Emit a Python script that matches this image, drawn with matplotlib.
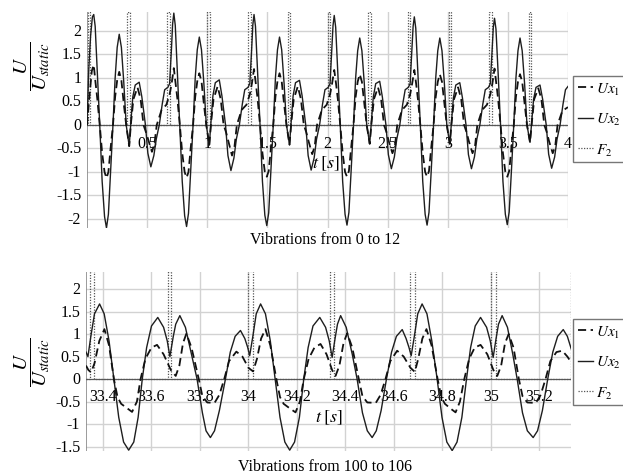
import numpy as np
import matplotlib
matplotlib.use("Agg")
import matplotlib.pyplot as plt
from matplotlib.lines import Line2D

plt.rcParams['font.family'] = ['Liberation Serif', 'DejaVu Serif']
plt.rcParams['mathtext.fontset'] = 'stix'

# ------------------------------------------------------------------
# Data read off the picture : top panel (0 .. 4 s)
# ------------------------------------------------------------------
top_ux2_t = [
    0.000, 0.015, 0.030, 0.045, 0.056, 0.068, 0.086, 0.106, 0.126, 0.146, 0.162, 0.178, 0.196, 0.216,
    0.234, 0.251, 0.268, 0.286, 0.306, 0.326, 0.351, 0.366, 0.381, 0.401, 0.434, 0.456, 0.486, 0.506,
    0.531, 0.556, 0.576, 0.601, 0.626, 0.646,
    0.672, 0.687, 0.702, 0.712, 0.722, 0.734, 0.752, 0.772, 0.792, 0.812, 0.828, 0.844, 0.862, 0.882,
    0.900, 0.917, 0.934, 0.952, 0.972, 0.992, 1.017, 1.032, 1.047, 1.067, 1.100, 1.122, 1.152, 1.172,
    1.197, 1.222, 1.242, 1.267, 1.292, 1.312,
    1.339, 1.354, 1.369, 1.379, 1.389, 1.401, 1.419, 1.439, 1.459, 1.479, 1.495, 1.511, 1.529, 1.549,
    1.567, 1.584, 1.601, 1.619, 1.639, 1.659, 1.684, 1.699, 1.714, 1.734, 1.767, 1.789, 1.819, 1.839,
    1.864, 1.889, 1.909, 1.934, 1.959, 1.979,
    2.006, 2.021, 2.036, 2.046, 2.056, 2.068, 2.086, 2.106, 2.126, 2.146, 2.162, 2.178, 2.196, 2.216,
    2.234, 2.251, 2.268, 2.286, 2.306, 2.326, 2.351, 2.366, 2.381, 2.401, 2.434, 2.456, 2.486, 2.506,
    2.531, 2.556, 2.576, 2.601, 2.626, 2.646,
    2.672, 2.687, 2.702, 2.712, 2.722, 2.734, 2.752, 2.772, 2.792, 2.812, 2.828, 2.844, 2.862, 2.882,
    2.900, 2.917, 2.934, 2.952, 2.972, 2.992, 3.017, 3.032, 3.047, 3.067, 3.100, 3.122, 3.152, 3.172,
    3.197, 3.222, 3.242, 3.267, 3.292, 3.312,
    3.339, 3.354, 3.369, 3.379, 3.389, 3.401, 3.419, 3.439, 3.459, 3.479, 3.495, 3.511, 3.529, 3.549,
    3.567, 3.584, 3.601, 3.619, 3.639, 3.659, 3.684, 3.699, 3.714, 3.734, 3.767, 3.789, 3.819, 3.839,
    3.864, 3.889, 3.909, 3.934, 3.959, 3.979, 4.000,
]
top_ux2 = [
    0.00, 1.20, 1.90, 2.30, 2.35, 2.10, 1.10, 0.00, -1.20, -1.95, -2.19, -1.90, -1.00, 0.00,
    1.00, 1.65, 1.93, 1.65, 0.90, 0.00, -0.45, 0.10, 0.60, 0.85, 0.91, 0.60, 0.00, -0.60,
    -0.89, -0.65, -0.30, 0.00, 0.45, 0.75,
    0.80, 0.88, 1.60, 2.15, 2.38, 2.12, 1.10, 0.00, -1.20, -1.93, -2.16, -1.88, -1.00, 0.00,
    1.00, 1.60, 1.87, 1.60, 0.88, 0.00, -0.43, 0.10, 0.62, 0.90, 0.96, 0.62, 0.00, -0.65,
    -0.97, -0.70, -0.30, 0.00, 0.45, 0.75,
    0.80, 0.88, 1.60, 2.13, 2.35, 2.10, 1.10, 0.00, -1.20, -1.92, -2.14, -1.87, -1.00, 0.00,
    1.00, 1.60, 1.87, 1.60, 0.88, 0.00, -0.42, 0.10, 0.62, 0.90, 0.95, 0.62, 0.00, -0.65,
    -0.96, -0.70, -0.30, 0.00, 0.45, 0.75,
    0.80, 0.88, 1.60, 2.12, 2.33, 2.08, 1.10, 0.00, -1.20, -1.90, -2.13, -1.86, -1.00, 0.00,
    1.00, 1.58, 1.85, 1.58, 0.88, 0.00, -0.40, 0.10, 0.60, 0.88, 0.93, 0.60, 0.00, -0.63,
    -0.93, -0.68, -0.30, 0.00, 0.45, 0.75,
    0.80, 0.88, 1.60, 2.10, 2.30, 2.06, 1.10, 0.00, -1.20, -1.90, -2.13, -1.86, -1.00, 0.00,
    1.00, 1.58, 1.85, 1.58, 0.88, 0.00, -0.40, 0.10, 0.58, 0.85, 0.90, 0.58, 0.00, -0.63,
    -0.93, -0.68, -0.30, 0.00, 0.45, 0.75,
    0.80, 0.88, 1.60, 2.08, 2.27, 2.04, 1.10, 0.00, -1.20, -1.90, -2.12, -1.85, -1.00, 0.00,
    1.00, 1.58, 1.85, 1.58, 0.88, 0.00, -0.37, 0.10, 0.55, 0.80, 0.85, 0.55, 0.00, -0.62,
    -0.92, -0.68, -0.30, 0.00, 0.45, 0.75, 0.82,
]

top_ux1_t = [
    0.000, 0.020, 0.040, 0.056, 0.071, 0.086, 0.106, 0.126, 0.146, 0.162, 0.178, 0.196, 0.216, 0.234,
    0.251, 0.268, 0.286, 0.306, 0.326, 0.351, 0.366, 0.386, 0.420, 0.446, 0.470, 0.490, 0.510, 0.540,
    0.561, 0.580, 0.620, 0.660,
    0.687, 0.704, 0.722, 0.737, 0.752, 0.772, 0.792, 0.812, 0.828, 0.844, 0.862, 0.882, 0.900, 0.917,
    0.934, 0.952, 0.972, 0.992, 1.017, 1.032, 1.052, 1.086, 1.112, 1.136, 1.156, 1.176, 1.206, 1.227,
    1.246, 1.286, 1.326,
    1.354, 1.371, 1.389, 1.404, 1.419, 1.439, 1.459, 1.479, 1.495, 1.511, 1.529, 1.549, 1.567, 1.584,
    1.601, 1.619, 1.639, 1.659, 1.684, 1.699, 1.719, 1.753, 1.779, 1.803, 1.823, 1.843, 1.873, 1.894,
    1.913, 1.953, 1.993,
    2.021, 2.038, 2.056, 2.071, 2.086, 2.106, 2.126, 2.146, 2.162, 2.178, 2.196, 2.216, 2.234, 2.251,
    2.268, 2.286, 2.306, 2.326, 2.351, 2.366, 2.386, 2.420, 2.446, 2.470, 2.490, 2.510, 2.540, 2.561,
    2.580, 2.620, 2.660,
    2.687, 2.704, 2.722, 2.737, 2.752, 2.772, 2.792, 2.812, 2.828, 2.844, 2.862, 2.882, 2.900, 2.917,
    2.934, 2.952, 2.972, 2.992, 3.017, 3.032, 3.052, 3.086, 3.112, 3.136, 3.156, 3.176, 3.206, 3.227,
    3.246, 3.286, 3.326,
    3.354, 3.371, 3.389, 3.404, 3.419, 3.439, 3.459, 3.479, 3.495, 3.511, 3.529, 3.549, 3.567, 3.584,
    3.601, 3.619, 3.639, 3.659, 3.684, 3.699, 3.719, 3.753, 3.779, 3.803, 3.823, 3.843, 3.873, 3.894,
    3.913, 3.953, 4.000,
]
top_ux1 = [
    0.00, 0.60, 1.15, 1.28, 0.90, 0.55, 0.00, -0.60, -1.00, -1.13, -1.00, -0.50, 0.00, 0.60,
    0.95, 1.13, 0.95, 0.45, 0.00, -0.45, 0.05, 0.55, 0.80, 0.55, 0.00, -0.15, -0.32, -0.57,
    -0.40, 0.00, 0.32, 0.43,
    0.65, 0.88, 1.21, 0.88, 0.55, 0.00, -0.60, -1.00, -1.12, -1.00, -0.50, 0.00, 0.60, 0.93,
    1.10, 0.93, 0.45, 0.00, -0.43, 0.05, 0.55, 0.82, 0.55, 0.00, -0.15, -0.35, -0.65, -0.45,
    0.00, 0.32, 0.43,
    0.65, 0.88, 1.19, 0.88, 0.55, 0.00, -0.60, -1.00, -1.10, -0.98, -0.50, 0.00, 0.60, 0.93,
    1.10, 0.93, 0.45, 0.00, -0.42, 0.05, 0.55, 0.82, 0.55, 0.00, -0.15, -0.35, -0.62, -0.45,
    0.00, 0.32, 0.43,
    0.65, 0.88, 1.17, 0.88, 0.55, 0.00, -0.60, -1.00, -1.10, -0.98, -0.50, 0.00, 0.60, 0.92,
    1.08, 0.92, 0.45, 0.00, -0.40, 0.05, 0.55, 0.80, 0.55, 0.00, -0.15, -0.35, -0.60, -0.45,
    0.00, 0.32, 0.43,
    0.65, 0.88, 1.17, 0.88, 0.55, 0.00, -0.60, -1.00, -1.10, -0.98, -0.50, 0.00, 0.60, 0.92,
    1.08, 0.92, 0.45, 0.00, -0.40, 0.05, 0.55, 0.80, 0.55, 0.00, -0.15, -0.35, -0.60, -0.45,
    0.00, 0.32, 0.43,
    0.65, 0.88, 1.20, 0.88, 0.55, 0.00, -0.60, -1.00, -1.10, -0.98, -0.50, 0.00, 0.60, 0.92,
    1.08, 0.92, 0.45, 0.00, -0.37, 0.05, 0.55, 0.78, 0.55, 0.00, -0.15, -0.35, -0.60, -0.45,
    0.00, 0.30, 0.38,
]

# F2 pulses (rising / falling edge times), clipped at the top of the view
top_f2_on = [0.008, 0.333, 0.668, 1.000, 1.343, 1.668, 2.000, 2.336, 2.668, 3.008, 3.343, 3.672]
top_f2_off = [0.025, 0.357, 0.690, 1.022, 1.365, 1.690, 2.022, 2.358, 2.690, 3.030, 3.365, 3.694]
f2_height = 2.4

# ------------------------------------------------------------------
# Data read off the picture : bottom panel (33.33 .. 35.33 s)
# ------------------------------------------------------------------
bot_ux2_t = [
    33.330, 33.338, 33.350, 33.365, 33.386, 33.405, 33.425, 33.445, 33.465, 33.485, 33.506, 33.527,
    33.545, 33.562, 33.580, 33.600, 33.626, 33.650, 33.665, 33.676, 33.690, 33.700, 33.717, 33.740,
    33.765, 33.788, 33.810, 33.825, 33.843, 33.860, 33.880, 33.905, 33.925, 33.945, 33.967, 33.985,
    33.997, 34.005, 34.018, 34.032, 34.050, 34.070, 34.090, 34.110, 34.130, 34.150, 34.170, 34.190,
    34.210, 34.228, 34.246, 34.266, 34.294, 34.318, 34.333, 34.345, 34.357, 34.367, 34.380, 34.403,
    34.428, 34.448, 34.470, 34.490, 34.510, 34.527, 34.547, 34.569, 34.590, 34.610, 34.634, 34.650,
    34.662, 34.671, 34.684, 34.698, 34.716, 34.736, 34.756, 34.778, 34.798, 34.818, 34.840, 34.860,
    34.880, 34.899, 34.916, 34.935, 34.957, 34.982, 34.997, 35.009, 35.021, 35.031, 35.046, 35.068,
    35.090, 35.108, 35.130, 35.150, 35.174, 35.192, 35.212, 35.234, 35.255, 35.275, 35.298, 35.315,
    35.331,
]
bot_ux2 = [
    0.60, 0.50, 0.95, 1.45, 1.67, 1.45, 0.85, 0.00, -0.85, -1.40, -1.58, -1.40,
    -0.85, 0.00, 0.70, 1.18, 1.37, 1.15, 0.85, 0.50, 0.95, 1.22, 1.41, 1.15,
    0.55, 0.00, -0.75, -1.15, -1.30, -1.15, -0.70, 0.00, 0.60, 0.95, 1.08, 0.90,
    0.70, 0.52, 0.95, 1.45, 1.67, 1.45, 0.85, 0.00, -0.85, -1.40, -1.58, -1.40,
    -0.85, 0.00, 0.70, 1.18, 1.37, 1.15, 0.85, 0.48, 0.90, 1.22, 1.41, 1.15,
    0.55, 0.00, -0.75, -1.15, -1.30, -1.15, -0.70, 0.00, 0.60, 0.95, 1.10, 0.90,
    0.70, 0.52, 0.95, 1.45, 1.67, 1.45, 0.85, 0.00, -0.85, -1.40, -1.59, -1.40,
    -0.85, 0.00, 0.70, 1.18, 1.37, 1.15, 0.85, 0.48, 0.90, 1.22, 1.41, 1.15,
    0.55, 0.00, -0.75, -1.15, -1.30, -1.15, -0.70, 0.00, 0.60, 0.95, 1.10, 0.95,
    0.67,
]

bot_ux1_t = [
    33.330, 33.340, 33.351, 33.365, 33.385, 33.406, 33.425, 33.445, 33.460, 33.475, 33.500, 33.520,
    33.540, 33.555, 33.575, 33.600, 33.623, 33.650, 33.680, 33.700, 33.715, 33.730, 33.744, 33.765,
    33.795, 33.810, 33.830, 33.860, 33.880, 33.900, 33.920, 33.950, 33.975, 34.000, 34.019, 34.035,
    34.052, 34.070, 34.090, 34.115, 34.130, 34.145, 34.170, 34.194, 34.212, 34.228, 34.248, 34.272,
    34.297, 34.322, 34.345, 34.359, 34.375, 34.392, 34.407, 34.428, 34.455, 34.470, 34.490, 34.525,
    34.545, 34.565, 34.585, 34.613, 34.640, 34.668, 34.686, 34.700, 34.717, 34.734, 34.755, 34.780,
    34.795, 34.810, 34.832, 34.854, 34.872, 34.890, 34.910, 34.933, 34.957, 34.985, 35.010, 35.026,
    35.042, 35.058, 35.073, 35.093, 35.115, 35.130, 35.150, 35.185, 35.205, 35.225, 35.245, 35.270,
    35.294, 35.315, 35.331,
]
bot_ux1 = [
    0.30, 0.20, 0.15, 0.35, 0.85, 1.11, 0.75, 0.00, -0.40, -0.55, -0.65, -0.73,
    -0.50, 0.00, 0.45, 0.70, 0.76, 0.55, 0.20, 0.07, 0.30, 0.80, 1.01, 0.70,
    0.00, -0.38, -0.52, -0.53, -0.35, 0.00, 0.40, 0.61, 0.50, 0.25, 0.17, 0.45,
    0.90, 1.11, 0.75, 0.00, -0.40, -0.55, -0.65, -0.74, -0.50, 0.00, 0.45, 0.70,
    0.78, 0.55, 0.20, 0.07, 0.30, 0.80, 1.02, 0.70, 0.00, -0.38, -0.52, -0.53,
    -0.35, 0.00, 0.40, 0.63, 0.50, 0.25, 0.16, 0.45, 0.90, 1.11, 0.75, 0.00,
    -0.40, -0.55, -0.65, -0.74, -0.50, 0.00, 0.45, 0.70, 0.76, 0.55, 0.20, 0.07,
    0.30, 0.80, 1.00, 0.70, 0.00, -0.38, -0.52, -0.53, -0.35, 0.00, 0.40, 0.60,
    0.63, 0.50, 0.37,
]

bot_f2_on = [33.348, 33.669, 34.000, 34.335, 34.668, 35.000, 35.328]
bot_f2_off = [33.362, 33.682, 34.018, 34.352, 34.686, 35.019, 35.345]

# axis ticks / labels
top_xticks = [0.5, 1, 1.5, 2, 2.5, 3, 3.5, 4]
top_xlabels = ['0.5', '1', '1.5', '2', '2.5', '3', '3.5', '4']
top_yticks = [2, 1.5, 1, 0.5, 0, -0.5, -1, -1.5, -2]
bot_xticks = [33.4, 33.6, 33.8, 34.0, 34.2, 34.4, 34.6, 34.8, 35.0, 35.2]
bot_xlabels = ['33.4', '33.6', '33.8', '34', '34.2', '34.4', '34.6', '34.8', '35', '35.2']
bot_yticks = [2, 1.5, 1, 0.5, 0, -0.5, -1, -1.5]


def pulse_train(on, off, height, t0, t1):
    t = [t0]
    v = [0.0]
    for a, b in zip(on, off):
        t += [a, a, b, b]
        v += [0.0, height, height, 0.0]
    t.append(t1)
    v.append(0.0)
    return np.array(t), np.array(v)


fig = plt.figure(figsize=(6.23, 4.77), dpi=100)

ax1 = fig.add_axes([87 / 623, 1 - 229.4 / 477, 481 / 623, 216.7 / 477])
ax2 = fig.add_axes([86 / 623, 1 - 451.6 / 477, 485 / 623, 178.6 / 477])

panels = [
    (ax1, (0, 4.0), (-2.2, 2.41), top_xticks, top_xlabels, top_yticks,
     top_ux1_t, top_ux1, top_ux2_t, top_ux2, top_f2_on, top_f2_off, -0.38, (1.99, -0.81)),
    (ax2, (33.33, 35.33), (-1.59, 2.38), bot_xticks, bot_xlabels, bot_yticks,
     bot_ux1_t, bot_ux1, bot_ux2_t, bot_ux2, bot_f2_on, bot_f2_off, -0.37, (34.33, -0.84)),
]

for ax, xlim, ylim, xt, xl, yt, u1t, u1, u2t, u2, fon, foff, lab_y, tpos in panels:
    ax.set_xlim(*xlim)
    ax.set_ylim(*ylim)
    for s in ax.spines.values():
        s.set_visible(False)
    ax.set_xticks([])
    ax.set_yticks([])

    # grid + axis lines through the origin (Maple style)
    for x in xt:
        ax.axvline(x, color='#d2d2d2', lw=1.0, zorder=0)
    for y in yt:
        if y != 0:
            ax.axhline(y, color='#d2d2d2', lw=1.0, zorder=0)
    ax.axvline(xlim[0], color='#8a8a8a', lw=1.2, zorder=1)
    ax.axhline(0, color='#5a5a5a', lw=0.9, zorder=1)

    # tick labels sit on the zero line, under the curves
    for x, lab in zip(xt, xl):
        ax.text(x, lab_y, lab, ha='center', va='center', fontsize=11.5, zorder=1)
    for y in yt:
        ax.text(-0.012, y, f"{y:g}", transform=ax.get_yaxis_transform(),
                ha='right', va='center', fontsize=11.5)
    ax.text(tpos[0], tpos[1], r'$t\;[s]$', ha='center', va='center', fontsize=13, zorder=1)

    ft, fv = pulse_train(fon, foff, f2_height, xlim[0], xlim[1])
    ax.plot(ft, fv, color='#555555', lw=0.9, linestyle=(0, (1, 1.2)), zorder=2)
    ax.plot(u2t, u2, color='#1e1e1e', lw=1.0, zorder=3)
    ax.plot(u1t, u1, color='#111111', lw=1.3, linestyle=(0, (4.5, 2.5)), zorder=4)

# y labels (fraction)
ylab = r'$\dfrac{U}{U_{static}}$'
fig.text(32 / 623, 1 - 66 / 477, ylab, rotation=90, ha='center', va='center', fontsize=15)
fig.text(32 / 623, 1 - 362 / 477, ylab, rotation=90, ha='center', va='center', fontsize=15)

# captions
fig.text(325 / 623, 1 - 240 / 477, 'Vibrations from 0 to 12', ha='center', va='center', fontsize=11.5)
fig.text(325 / 623, 1 - 467 / 477, 'Vibrations from 100 to 106', ha='center', va='center', fontsize=11.5)

# legends
handles = [
    Line2D([], [], color='#111111', lw=1.3, linestyle=(0, (4.5, 2.5))),
    Line2D([], [], color='#1e1e1e', lw=1.0),
    Line2D([], [], color='#555555', lw=0.9, linestyle=(0, (1, 1.2))),
]
labels = [r'$Ux_1$', r'$Ux_2$', r'$F_2$']
for top_px in (77, 320):
    leg = fig.legend(handles, labels, loc='upper left',
                     bbox_to_anchor=(573 / 623, 1 - top_px / 477),
                     bbox_transform=fig.transFigure, fontsize=11,
                     handlelength=1.0, handletextpad=0.2, borderpad=0.3,
                     borderaxespad=0.0, labelspacing=0.95, fancybox=False,
                     framealpha=1.0, edgecolor='#777777')
    leg.get_frame().set_linewidth(1.0)

fig.savefig('out.png', dpi=100)
